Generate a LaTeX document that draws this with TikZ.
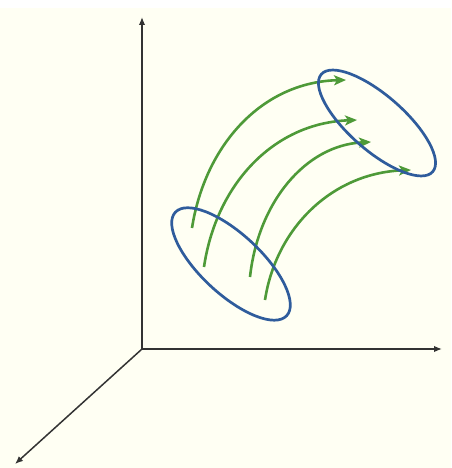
\documentclass[tikz,border=0pt]{standalone}
\usetikzlibrary{arrows.meta}
\definecolor{bgcream}{HTML}{FFFFF3}
\definecolor{ellblue}{HTML}{2F5C9C}
\definecolor{flowgreen}{HTML}{4E9A38}
\definecolor{axisgray}{HTML}{333333}
\begin{document}
\begin{tikzpicture}[x=1pt,y=-1pt,
  axisline/.style={draw=axisgray,line width=1.5pt,-{Latex[length=8pt,width=6.5pt]}},
  ringline/.style={draw=ellblue,line width=2.7pt},
  flowline/.style={draw=flowgreen,line width=2.6pt,-{Stealth[length=12pt,width=10pt,inset=3pt]}}]
\useasboundingbox (0,0) rectangle (451,468);
\fill[white] (0,0) rectangle (451,468);
\fill[bgcream] (0,8) rectangle (451,468);
% axes
\coordinate (O) at (142,349);
\coordinate (Ytip) at (142,17);
\coordinate (Xtip) at (442,349);
\coordinate (Ztip) at (15,464);
\draw[axisline] (O) -- (Ytip);
\draw[axisline] (O) -- (Xtip);
\draw[axisline] (O) -- (Ztip);
% flow curves
\coordinate (s1) at (192,228); \coordinate (e1) at (346,80);
\coordinate (s2) at (204,267); \coordinate (e2) at (357,120);
\coordinate (s3) at (250,277); \coordinate (e3) at (371,142);
\coordinate (s4) at (265,300); \coordinate (e4) at (411,170);
\draw[flowline] (s1) .. controls (205,145) and (262,82) .. (e1);
\draw[flowline] (s2) .. controls (216,185) and (273,123) .. (e2);
\draw[flowline] (s3) .. controls (258,203) and (305,145) .. (e3);
\draw[flowline] (s4) .. controls (276,228) and (332,173) .. (e4);
% rings
\coordinate (c1) at (231,264);
\coordinate (c2) at (377,123);
\draw[ringline,rotate around={-42.9:(c1)}] (c1) ellipse [x radius=76pt,y radius=30pt];
\draw[ringline,rotate around={-41.2:(c2)}] (c2) ellipse [x radius=74pt,y radius=27.5pt];
\end{tikzpicture}
\end{document}
